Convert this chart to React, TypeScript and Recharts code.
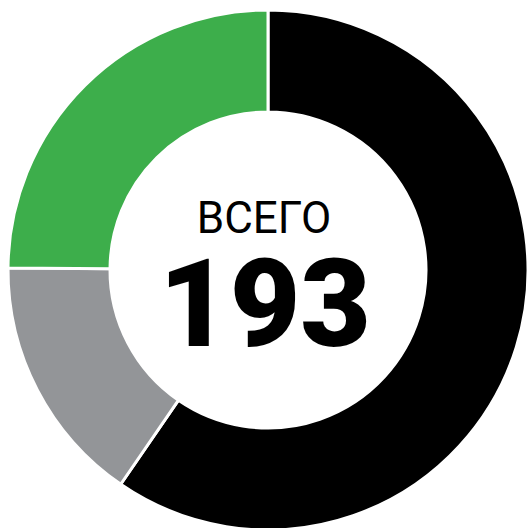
import { PieChart, Pie, Cell, Label } from "recharts"

const categories = ["Черные", "Серые", "Зеленые"]
const values = [115, 30, 48]
const colors = ["#000000", "#939598", "#3DAE4B"]
const totalLabel = "ВСЕГО"
const total = values.reduce((a, b) => a + b, 0)

const data = categories.map((name, i) => ({ name, value: values[i] }))

function CenterText() {
  return (
    <g>
      <text x={264} y={233} textAnchor="middle" fontFamily="Roboto" fontSize={44} fill="#000">
        {totalLabel}
      </text>
      <text x={265} y={346} textAnchor="middle" fontFamily="Roboto" fontWeight={900} fontSize={122} fill="#000">
        {total}
      </text>
    </g>
  )
}

export default function App() {
  return (
    <div style={{ position: "absolute", left: 0, top: 0, width: 531, height: 528, background: "#fff" }}>
      <PieChart width={531} height={528} margin={{ top: 0, right: 0, bottom: 0, left: 0 }}>
        <Pie
          data={data}
          dataKey="value"
          nameKey="name"
          cx={268}
          cy={270}
          innerRadius={158}
          outerRadius={260}
          startAngle={90}
          endAngle={-270}
          stroke="#fff"
          strokeWidth={3}
          isAnimationActive={false}
        >
          {data.map((d, i) => (
            <Cell key={d.name} fill={colors[i]} />
          ))}
          <Label content={<CenterText />} position="center" />
        </Pie>
      </PieChart>
    </div>
  )
}
